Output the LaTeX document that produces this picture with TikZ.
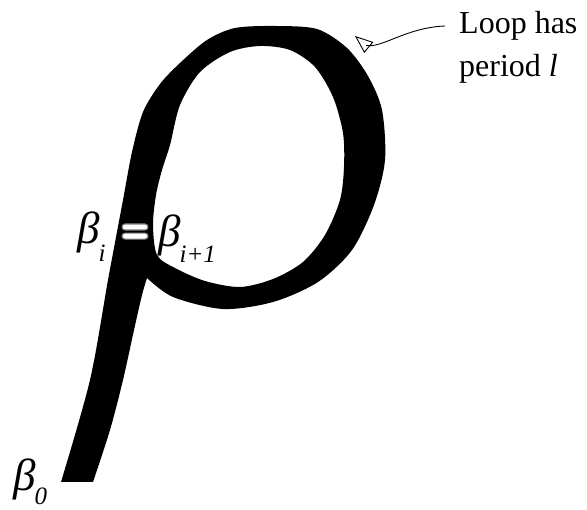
\documentclass[tikz,border=0pt]{standalone}
\usepackage{fontspec}
\setmainfont{Liberation Serif}
\usetikzlibrary{arrows.meta, positioning, bending}

\newcommand{\betasub}[2]{\textit{β}\kern-1pt{\fontsize{25}{25}\selectfont\raisebox{#2}{\textit{#1}}}}

\begin{document}
\begin{tikzpicture}[x=1pt,y=-1pt]

	\tikzset{
		betalbl/.style={
				font=\fontsize{45}{45}\selectfont, inner sep=0pt, anchor=base west
			},
		note/.style={
				font=\fontsize{32}{43}\selectfont, align=left, anchor=north west, inner sep=0pt
			},
		eqbar/.style={
				rectangle, rounded corners=3pt, draw=gray, fill=white, line width=1.1pt,
				minimum width=26pt, minimum height=6pt, inner sep=0pt
			},
		pointer/.style={
				line width=0.9pt, -{Triangle[open, length=18pt, width=14pt]}
			},
	}
	\useasboundingbox (0,0) rectangle (587,510);

	% the loop
	\fill[even odd rule] (61,482) -- (93,482)
		-- plot[smooth] coordinates {(93,482) (110,430) (123,380) (134,330) (142,295) (147,278)}
		-- plot[smooth] coordinates {(147,278) (173,297) (223,309) (273,302) (318,282) (352,250)
			(374,205) (385,160) (382,110) (368,76) (347,48) (317,29) (275,26) (235,28) (207,40)
			(180,63) (160,84) (143,112) (132,152) (123,200) (108,280) (90,380) (61,482)}
		-- cycle
		plot[smooth cycle] coordinates {(157,255) (153,225) (156,195) (162,170) (170,145)
			(180,105) (200,72) (230,52) (260,46) (290,50) (315,67) (333,97) (343,133) (344,167)
			(340,200) (325,235) (303,262) (273,279) (240,287) (205,281) (175,268)};

	\node[eqbar](eqtop) at (135,227){};
	\node[eqbar, below=2pt of eqtop](eqbot){};

	\node[betalbl](bi) at (77,244){\betasub{i}{-18pt}};
	\node[betalbl](bj) at (158,247){\betasub{i+1}{-16pt}};
	\node[betalbl](b0) at (13,491){\betasub{0}{-14pt}};

	\node[note](note) at (459,11){Loop has\\period \textit{l}};
	\coordinate (tip) at (355,36);

	\draw[pointer] ([shift={(-14pt,-15pt)}]note.north west) .. controls +(-50,2) and +(14,26) .. (tip);

\end{tikzpicture}
\end{document}
